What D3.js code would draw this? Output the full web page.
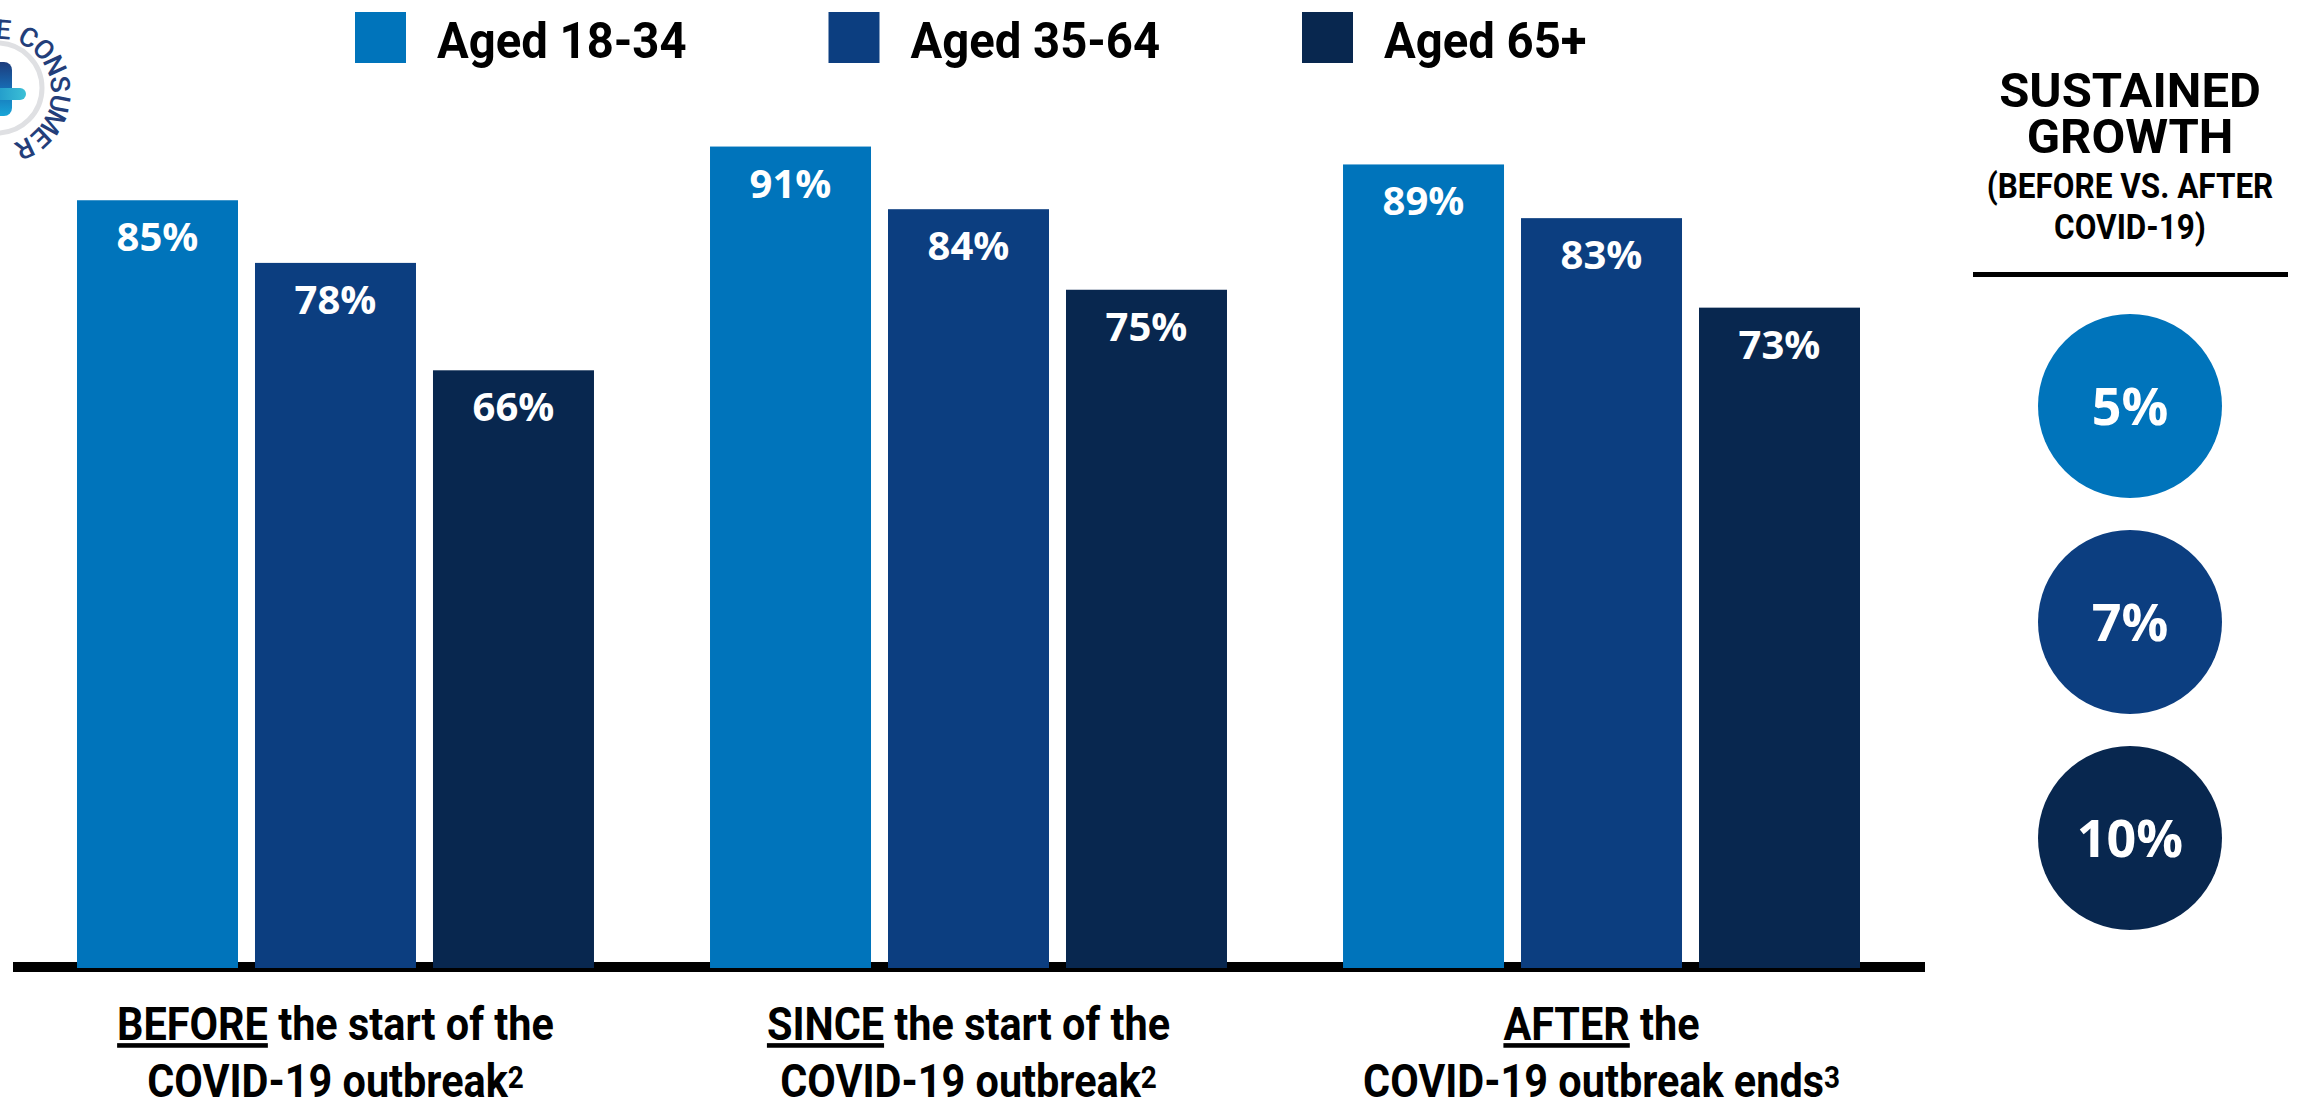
<!DOCTYPE html>
<html>
<head>
<meta charset="utf-8">
<script src="https://cdn.jsdelivr.net/npm/d3@7"></script>
<style>
  html, body { margin: 0; padding: 0; background: #ffffff; }
  svg { display: block; }
</style>
</head>
<body>
<svg id="chart" width="2304" height="1105"></svg>
<script>
// ---- data ----
const periods = ["BEFORE", "SINCE", "AFTER"];
const ageGroups = ["Aged 18-34", "Aged 35-64", "Aged 65+"];
const aged18to34 = [85, 91, 89];
const aged35to64 = [78, 84, 83];
const aged65plus = [66, 75, 73];
const sustainedGrowth = [5, 7, 10];

const periodLead = ["BEFORE", "SINCE", "AFTER"];
const periodLine1Rest = [" the start of the", " the start of the", " the"];
const periodLine2 = ["COVID-19 outbreak", "COVID-19 outbreak", "COVID-19 outbreak ends"];
const periodNote = ["2", "2", "3"];

const growthTitle = ["SUSTAINED", "GROWTH"];
const growthSubtitle = ["(BEFORE VS. AFTER", "COVID-19)"];

const colors = ["#0074bb", "#0c3e80", "#08274f"];
const seriesByAge = [aged18to34, aged35to64, aged65plus];

// ---- layout ----
const svg = d3.select("#chart");
const baseY = 968;          // bottom of the bars
const condense = 0.9;       // narrow headline face

const x0 = d3.scaleBand().domain(periods).range([77, 1860]).paddingInner(0.1833).paddingOuter(0);
const x1 = d3.scaleBand().domain(ageGroups).range([0, x0.bandwidth()]).paddingInner(0.0955).paddingOuter(0);
const y = d3.scaleLinear().domain([0, 100]).range([961, 66]);
const color = d3.scaleOrdinal().domain(ageGroups).range(colors);

// ---- logo (top-left, partly off the page) ----
const logo = svg.append("g").attr("class", "logo");
const lcx = -3, lcy = 88;
logo.append("circle").attr("cx", lcx).attr("cy", lcy).attr("r", 45)
  .attr("fill", "none").attr("stroke", "#dfe0e3").attr("stroke-width", 5);
const defs = svg.append("defs");
const gv = defs.append("linearGradient").attr("id", "plusV").attr("x1", 0).attr("y1", 0).attr("x2", 0).attr("y2", 1);
gv.append("stop").attr("offset", "0%").attr("stop-color", "#1d3c7c");
gv.append("stop").attr("offset", "45%").attr("stop-color", "#1768b0");
gv.append("stop").attr("offset", "100%").attr("stop-color", "#19a6d8");
const gh = defs.append("linearGradient").attr("id", "plusH").attr("x1", 0).attr("y1", 0).attr("x2", 1).attr("y2", 0);
gh.append("stop").attr("offset", "0%").attr("stop-color", "#1a8fc7");
gh.append("stop").attr("offset", "100%").attr("stop-color", "#3cc0d6");
logo.append("rect").attr("x", -12).attr("y", 62).attr("width", 24).attr("height", 54).attr("rx", 8)
  .attr("fill", "url(#plusV)");
logo.append("rect").attr("x", -12).attr("y", 88).attr("width", 38).attr("height", 12).attr("rx", 6)
  .attr("fill", "url(#plusH)");

const arcX = -2, arcY = 92, arcR = 63;
const logoChars = "E CONSUMER".split("");
let ang = 5;
const logoPos = [];
logoChars.forEach(ch => {
  if (ch === " ") { ang += 6.3; return; }
  logoPos.push({ ch, a: ang });
  ang += 17.9;
});
logo.selectAll("text.arc").data(logoPos).join("text")
  .attr("class", "arc")
  .attr("transform", d => {
    const r = d.a * Math.PI / 180;
    return `translate(${arcX + arcR * Math.sin(r)},${arcY - arcR * Math.cos(r)}) rotate(${d.a})`;
  })
  .attr("text-anchor", "middle")
  .attr("dy", "0.36em")
  .attr("font-family", "Roboto, sans-serif")
  .attr("font-weight", 500)
  .attr("font-size", 27)
  .attr("fill", "#233e7a")
  .text(d => d.ch);

// ---- legend ----
const legend = svg.append("g").attr("class", "legend");
const legendItems = legend.selectAll("g").data(ageGroups).join("g")
  .attr("transform", (d, i) => `translate(${355 + i * 473.5},12)`);
legendItems.append("rect").attr("width", 51).attr("height", 51).attr("fill", d => color(d));
legendItems.append("text")
  .attr("transform", "translate(82,45.5) scale(0.945,1)")
  .attr("font-family", "Roboto, sans-serif")
  .attr("font-weight", 700)
  .attr("font-size", 50)
  .attr("fill", "#000")
  .text(d => d);

// ---- baseline ----
svg.append("rect").attr("x", 13).attr("y", 962).attr("width", 1912).attr("height", 10).attr("fill", "#000");

// ---- bars ----
const rows = periods.map((p, pi) => ({
  period: p,
  values: ageGroups.map((g, gi) => ({ group: g, value: seriesByAge[gi][pi] }))
}));

const groups = svg.append("g").attr("class", "bars").selectAll("g").data(rows).join("g")
  .attr("transform", d => `translate(${x0(d.period)},0)`);

groups.selectAll("rect").data(d => d.values).join("rect")
  .attr("x", d => x1(d.group))
  .attr("y", d => y(d.value))
  .attr("width", x1.bandwidth())
  .attr("height", d => baseY - y(d.value))
  .attr("fill", d => color(d.group));

groups.selectAll("text").data(d => d.values).join("text")
  .attr("x", d => x1(d.group) + x1.bandwidth() / 2)
  .attr("y", d => y(d.value) + 51)
  .attr("text-anchor", "middle")
  .attr("font-family", "'Open Sans', sans-serif")
  .attr("font-weight", 700)
  .attr("font-size", 40)
  .attr("fill", "#ffffff")
  .text(d => d.value + "%");

// ---- period labels under the axis ----
const periodLabels = svg.append("g").attr("class", "period-labels").selectAll("g").data(periods).join("g")
  .attr("transform", d => `translate(${x0(d) + x0.bandwidth() / 2},0) scale(${condense},1)`);

const line1 = periodLabels.append("text")
  .attr("x", 0).attr("y", 1040)
  .attr("text-anchor", "middle")
  .attr("font-family", "Roboto, sans-serif")
  .attr("font-weight", 700)
  .attr("font-size", 46)
  .attr("fill", "#000");
line1.append("tspan").style("text-decoration", "underline").text((d, i) => periodLead[i]);
line1.append("tspan").text((d, i) => periodLine1Rest[i]);

const line2 = periodLabels.append("text")
  .attr("x", 0).attr("y", 1097)
  .attr("text-anchor", "middle")
  .attr("font-family", "Roboto, sans-serif")
  .attr("font-weight", 700)
  .attr("font-size", 46)
  .attr("fill", "#000");
line2.append("tspan").text((d, i) => periodLine2[i]);
line2.append("tspan").attr("baseline-shift", "9").attr("font-size", 31).text((d, i) => periodNote[i]);

// ---- sustained growth panel ----
const panelX = 2130;
const panel = svg.append("g").attr("class", "growth");
panel.selectAll("text.title").data(growthTitle).join("text")
  .attr("class", "title")
  .attr("x", panelX).attr("y", (d, i) => 107 + i * 46)
  .attr("text-anchor", "middle")
  .attr("font-family", "Roboto, sans-serif")
  .attr("font-weight", 700)
  .attr("font-size", 49)
  .attr("fill", "#000")
  .text(d => d);
panel.selectAll("text.sub").data(growthSubtitle).join("text")
  .attr("class", "sub")
  .attr("transform", (d, i) => `translate(${panelX},${198 + i * 41}) scale(${condense},1)`)
  .attr("text-anchor", "middle")
  .attr("font-family", "Roboto, sans-serif")
  .attr("font-weight", 700)
  .attr("font-size", 35)
  .attr("fill", "#000")
  .text(d => d);
panel.append("rect").attr("x", 1973).attr("y", 272).attr("width", 315).attr("height", 5).attr("fill", "#000");

const cy = d3.scalePoint().domain(ageGroups).range([406, 838]);
const bubbles = panel.selectAll("g.bubble").data(ageGroups.map((g, i) => ({ group: g, value: sustainedGrowth[i] })))
  .join("g").attr("class", "bubble")
  .attr("transform", d => `translate(${panelX},${cy(d.group)})`);
bubbles.append("circle").attr("r", 92).attr("fill", d => color(d.group));
bubbles.append("text")
  .attr("text-anchor", "middle")
  .attr("dy", "0.36em")
  .attr("font-family", "'Open Sans', sans-serif")
  .attr("font-weight", 700)
  .attr("font-size", 52)
  .attr("fill", "#ffffff")
  .text(d => d.value + "%");
</script>
</body>
</html>
